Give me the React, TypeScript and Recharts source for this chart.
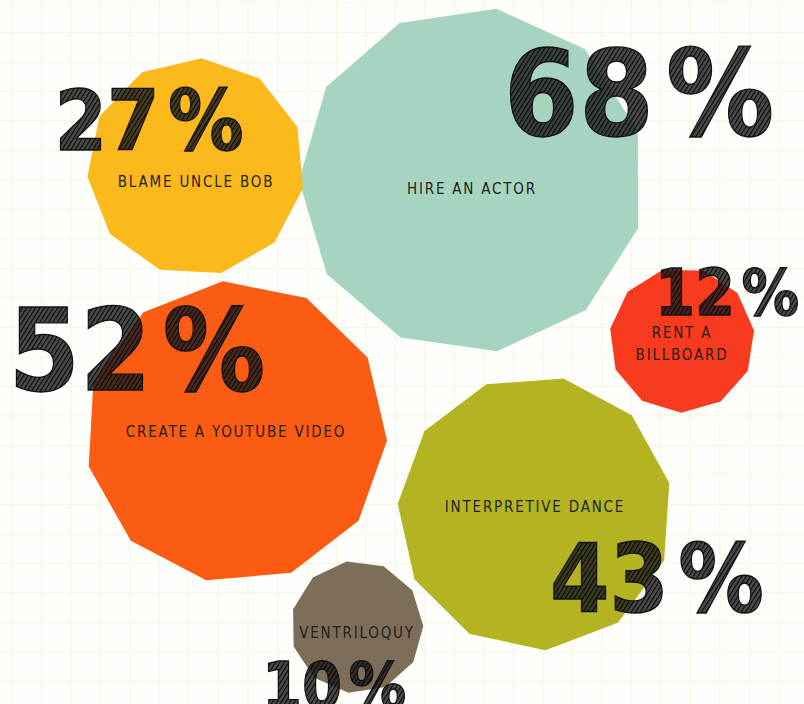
import React from 'react';
import { ScatterChart, Scatter, XAxis, YAxis, ZAxis, CartesianGrid } from 'recharts';

// ---- data ----
const categories = ['Hire an actor', 'Create a YouTube video', 'Interpretive dance', 'Blame Uncle Bob', 'Rent a billboard', 'Ventriloquy'];
const labelLines = [['HIRE AN ACTOR'], ['CREATE A YOUTUBE VIDEO'], ['INTERPRETIVE DANCE'], ['BLAME UNCLE BOB'], ['RENT A', 'BILLBOARD'], ['VENTRILOQUY']];
const percentages = [68, 52, 43, 27, 12, 10];
const xPositions = [472, 236, 535, 196, 682, 357];
const yPositions = [180, 432, 513, 167, 340, 627];

// ---- style ----
const W = 804;
const H = 704;
const colors = ['#a7d4c0', '#fb5b12', '#b4b422', '#fcb91c', '#f83b1e', '#7d6e5a'];
const rotations = [8, -5, 12, 3, 17, -9];
const sides = 11;
const areaPerUnit = Math.PI * 440;
const pctStyle = [
  { dx: 167, dy: -45, fs: 120 },
  { dx: -99, dy: -42, fs: 114 },
  { dx: 122, dy: 99, fs: 95 },
  { dx: -47, dy: -17, fs: 84 },
  { dx: 45, dy: -25, fs: 64 },
  { dx: -23, dy: 81, fs: 64 },
];
const pctScaleX = 0.9;
const pctGap = 0.11;
const labelDy = [14, 5, -1, 20, -2, 11];
const gridStep = 29.5;
const gridX = Array.from({ length: Math.ceil(W / gridStep) }, (_, i) => 12 + i * gridStep);
const gridY = Array.from({ length: Math.ceil(H / gridStep) }, (_, i) => 3 + i * gridStep);

const rows = categories.map((c, i) => ({
  idx: i,
  name: c,
  x: xPositions[i],
  y: yPositions[i],
  value: percentages[i],
}));

const BubbleShape = (props: any) => {
  const { cx, cy, size, payload } = props;
  const r = Math.sqrt(Math.max(size, 0) / Math.PI);
  const rot = (rotations[payload.idx] * Math.PI) / 180;
  const pts: string[] = [];
  for (let k = 0; k < sides; k++) {
    const a = rot + (k * 2 * Math.PI) / sides - Math.PI / 2;
    pts.push(`${(cx + r * Math.cos(a)).toFixed(2)},${(cy + r * Math.sin(a)).toFixed(2)}`);
  }
  return <polygon points={pts.join(' ')} fill={colors[payload.idx]} stroke="none" />;
};

const TextShape = (props: any) => {
  const { cx, cy, payload } = props;
  const i = payload.idx;
  const ps = pctStyle[i];
  const lines = labelLines[i];
  return (
    <g>
      {i === 0 && (
        <defs>
          <pattern id="hatch" patternUnits="userSpaceOnUse" width="4" height="4" patternTransform="rotate(35)">
            <rect width="4" height="4" fill="rgba(30,30,30,0.8)" />
            <line x1="0" y1="0" x2="0" y2="4" stroke="#080808" strokeWidth="2.4" />
          </pattern>
        </defs>
      )}
      {lines.map((ln, j) => (
        <text
          key={j}
          x={cx}
          y={cy + labelDy[i] + j * 22}
          textAnchor="middle"
          fontFamily="'Liberation Sans Narrow', 'DejaVu Sans Condensed', sans-serif"
          fontSize={15}
          letterSpacing={1.8}
          fill="#231f1c"
        >
          {ln}
        </text>
      ))}
      <g transform={`translate(${cx + ps.dx},${cy + ps.dy}) scale(${pctScaleX},1)`}>
        <text
          x={0}
          y={0}
          textAnchor="middle"
          fontFamily="'DejaVu Sans', sans-serif"
          fontWeight="bold"
          fontSize={ps.fs}
          fill="url(#hatch)"
          stroke="#111"
          strokeWidth={1.3}
        >
          <tspan>{String(payload.value)}</tspan>
          <tspan dx={ps.fs * pctGap}>%</tspan>
        </text>
      </g>
    </g>
  );
};

export default function App() {
  return (
    <div style={{ position: 'absolute', left: 0, top: 0, width: W, height: H, background: '#fefefb' }}>
      <ScatterChart width={W} height={H} margin={{ top: 0, right: 0, bottom: 0, left: 0 }}>
        <CartesianGrid stroke="#f5f5e7" strokeWidth={1} horizontalPoints={gridY} verticalPoints={gridX} />
        <XAxis type="number" dataKey="x" domain={[0, W]} hide />
        <YAxis type="number" dataKey="y" domain={[0, H]} reversed hide />
        <ZAxis type="number" dataKey="value" domain={[0, 68]} range={[0, areaPerUnit * 68]} />
        <Scatter data={rows} shape={BubbleShape} isAnimationActive={false} />
        <Scatter data={rows} shape={TextShape} isAnimationActive={false} />
      </ScatterChart>
    </div>
  );
}
